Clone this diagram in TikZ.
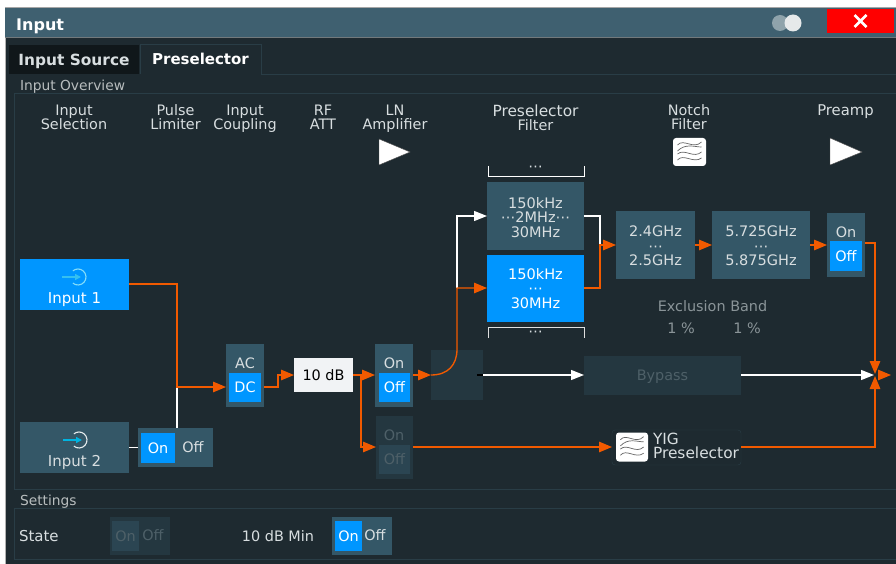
\documentclass[tikz,border=0pt]{standalone}
\usepackage{fontspec}
\setmainfont{DejaVu Sans}
\usetikzlibrary{calc,arrows.meta}
\definecolor{bodyc}{HTML}{1E2A30}
\definecolor{titlec}{HTML}{3F6070}
\definecolor{panelc}{HTML}{345767}
\definecolor{dimc}{HTML}{243740}
\definecolor{dimtxt}{HTML}{4E6068}
\definecolor{bluec}{HTML}{0096FF}
\definecolor{orangec}{HTML}{F25A00}
\definecolor{linec}{HTML}{293D46}
\definecolor{lblc}{HTML}{D8DEE0}
\definecolor{grayt}{HTML}{8A9498}
\definecolor{attc}{HTML}{F1F3F5}
\newcommand{\myfs}[1]{\fontsize{#1}{#1}\selectfont}
\newcommand{\mylb}{\fontsize{14.4}{14}\selectfont}
\newcommand{\myfl}{\fontsize{14.5}{14.5}\selectfont}
\newcommand{\mypr}[1]{{\fontsize{15.4}{14}\selectfont #1}}
\newcommand{\lta}{\rule{0pt}{11pt}}
\newcommand{\ltb}{\rule[-4pt]{0pt}{4pt}}
\tikzset{
  x=1pt,y=-1pt,
  boxn/.style={inner sep=0pt,outer sep=0pt,align=center,text=lblc,font=\mylb},
  panel/.style={boxn,fill=panelc},
  dimbox/.style={boxn,fill=dimc,text=dimtxt},
  active/.style={boxn,fill=bluec,text=white},
  lbl/.style={inner sep=0pt,outer sep=0pt,align=center,text=lblc,font=\mylb},
  filterbox/.style={font=\myfl},
  oline/.style={draw=orangec,line width=1.35pt},
  wline/.style={draw=white,line width=1.35pt},
  oarr/.style={oline,-{Triangle[length=13pt,width=10.5pt,fill=orangec]}},
  warr/.style={wline,-{Triangle[length=13pt,width=10pt,fill=white]}},
  tri/.style={fill=white,draw=black!70,line width=.4pt},
  sect/.style={inner sep=0pt,outer sep=0pt,anchor=west,text depth=0pt,text=lblc!85!black,font=\myfs{13.8}},
}
% box from corners: name, x0,y0,x1,y1, style, text
\newcommand{\bx}[7]{%
  \pgfmathsetmacro{\cxv}{(#2+#4)/2}\pgfmathsetmacro{\cyv}{(#3+#5)/2}%
  \pgfmathsetmacro{\wv}{#4-#2}\pgfmathsetmacro{\hv}{#5-#3}%
  \node[#6,minimum width=\wv pt,minimum height=\hv pt] (#1) at (\cxv,\cyv) {#7};}
% filter icon: name, center, width, height
\newcommand{\filt}[4]{%
  \node[fill=white,rounded corners=3pt,inner sep=0pt,outer sep=0pt,minimum width=#3pt,minimum height=#4pt] (#1) at (#2) {};
  \begin{scope}[shift={(#2)},xscale=#3/33,yscale=#4/28,draw=black!60,line width=.7pt]
    \draw (-12,-7) .. controls (-6,-14) and (4,-2) .. (12,-10);
    \draw (-12,-1) .. controls (-4,-9) and (5,-5) .. (12,-5);
    \draw (-12,2) .. controls (-5,-4) and (4,7) .. (12,0);
    \draw (-12,8) .. controls (-6,1) and (4,12) .. (12,6);
  \end{scope}}
% input icon: centre, circle colour, arrow colour
\newcommand{\inicon}[3]{%
  \draw[line width=1.1pt,draw=#2] ($(#1)+(0,0)$) ++(130:8) arc[start angle=130,end angle=-130,radius=8];
  \draw[line width=1.4pt,draw=#3,-{Triangle[length=6pt,width=6pt,fill=#3]}] ($(#1)+(-16,0)$) -- ($(#1)+(3,0)$);}
\begin{document}
\begin{tikzpicture}
\useasboundingbox (0,0) rectangle (896,564);
\fill[white] (0,0) rectangle (896,564);
\fill[bodyc] (5,7) rectangle (896,564);
\draw[gray!60,line width=1pt] (5,7) -- (5,564);
\fill[titlec] (5,8) rectangle (896,37);
\draw[gray!70,line width=1pt] (5,7.5) -- (896,7.5);
\draw[gray!80!titlec,line width=1pt] (5,37.5) -- (896,37.5);
\node[inner sep=0pt,text=white,anchor=west,text depth=0pt,font=\myfs{16}\bfseries] (title) at (16,25) {Input};
% toggle + close
\definecolor{togc}{HTML}{8FA3AB}
\definecolor{togd}{HTML}{E6E9EA}
\fill[togc] (780,23) circle (8pt);
\fill[togd] (793,23) circle (8.5pt);
\bx{close}{827}{9}{894}{33}{boxn,fill=red}{}
\draw[white,line width=2.6pt] ($(close.center)+(-6,-6)$) -- ($(close.center)+(6,6)$) ($(close.center)+(6,-6)$) -- ($(close.center)+(-6,6)$);
% tabs
\draw[linec,line width=1pt] (140,74.5) -- (140,44.5) -- (261,44.5) -- (261,74.5) -- (896,74.5);
\bx{tabsrc}{9}{45}{139}{74}{boxn,fill=black!45!bodyc,text=lblc,text depth=0pt,font=\myfs{15.4}\bfseries}{Input Source}
\node[inner sep=0pt,text=white,text depth=0pt,font=\myfs{15}\bfseries] (tabpre) at (200.5,59) {Preselector};
% groups
\node[sect] (gi) at (20,85.5) {Input Overview};
\draw[linec,line width=1pt] (896,93.5) -- (14.5,93.5) -- (14.5,489.5) -- (896,489.5);
\node[sect] (gs) at (20,500.5) {Settings};
\draw[linec,line width=1pt] (896,508.5) -- (14.5,508.5) -- (14.5,559.5) -- (896,559.5);
% headers
\node[lbl] (h1) at (74,119.5) {\lta Input\\\ltb Selection};
\node[lbl] (h2) at (175.5,119.5) {\lta Pulse\\\ltb Limiter};
\node[lbl] (h3) at (245,119.5) {\lta Input\\\ltb Coupling};
\node[lbl] (h4) at (323,119.5) {\lta RF\\\ltb ATT};
\node[lbl] (h5) at (395,119.5) {\lta LN\\\ltb Amplifier};
\node[lbl] (h6) at (535.5,119.5) {\lta\mypr{Preselector}\\\ltb Filter};
\node[lbl] (h7) at (689,119.5) {\lta Notch\\\ltb Filter};
\node[lbl] (h8) at (845.5,112) {\strut\fontsize{14.8}{14}\selectfont Preamp};
\draw[tri] (379,139) -- (410,152) -- (379,165) -- cycle;
\draw[tri] (830,138) -- (862,152) -- (830,165) -- cycle;
\filt{notchi}{689.5,152}{33}{28}
% inputs
\definecolor{icona}{HTML}{86DDF8}
\definecolor{iconb}{HTML}{35C0F0}
\definecolor{iconc}{HTML}{E4ECEE}
\definecolor{icond}{HTML}{00B4E0}
\bx{in1}{20}{259}{129}{310}{active}{\rule{0pt}{28pt}\\\fontsize{15}{14}\selectfont Input 1}
\inicon{$(in1.center)+(3.5,-7.5)$}{icona}{iconb}
\bx{in2}{20}{422}{129}{473}{panel}{\rule{0pt}{28pt}\\\fontsize{15}{14}\selectfont Input 2}
\inicon{$(in2.center)+(4.5,-7.5)$}{iconc}{icond}
\bx{pl}{138}{428}{213}{467}{panel}{}
\bx{plon}{141}{433}{175}{463}{active}{On}
\node[lbl] (ploff) at (193,447) {Off};
\bx{cpl}{226}{344}{264}{407}{panel}{}
\node[lbl] (ac) at (245,363) {AC};
\bx{dc}{229}{373}{261}{402}{active}{DC}
\bx{att}{294}{358}{353}{392}{boxn,fill=attc,text=black}{10 dB}
\bx{ln}{375}{344}{413}{407}{panel}{}
\node[lbl] (lnon) at (394,363) {On};
\bx{lnoff}{379}{373}{410}{402}{active}{Off}
\bx{dis}{376}{416}{413}{479}{dimbox}{}
\node[lbl,text=dimtxt] (dison) at (394,435) {On};
\bx{disoff}{379}{445}{410}{474}{dimbox,fill=panelc!45!dimc}{Off}
\bx{sw}{431}{350}{483}{400}{dimbox}{}
\coordinate (swin) at (431,375);
\bx{byp}{584}{356}{741}{395}{dimbox,text depth=0pt}{Bypass}
\bx{yig}{612}{430}{741}{465}{boxn,fill=bodyc,draw=linec,rounded corners=3pt}{}
\filt{yigi}{632,447}{32}{29}
\node[lbl,anchor=west,align=left,text=lblc] (yigt) at (653,448) {\lta\mypr{YIG}\\\ltb\mypr{Preselector}};
% filters
\bx{fa}{487}{182}{584}{250}{panel,filterbox}{\rule{0pt}{14pt}150kHz\\⋯2MHz⋯\\30MHz}
\bx{fb}{487}{255}{584}{322}{active,filterbox}{150kHz\\⋯\\30MHz}
\draw[white,line width=1pt] (488,166) -- (488,177) -- (584,177) -- (584,166);
\node[lbl] (dots1) at (535.5,168.5) {⋯};
\draw[white!75!gray,line width=1pt] (488,338) -- (488,327) -- (584,327) -- (584,338);
\node[lbl] (dots2) at (535.5,334) {⋯};
\bx{n1}{616}{211}{695}{279}{panel,filterbox}{\rule{0pt}{13pt}2.4GHz\\⋯\\2.5GHz}
\bx{n2}{712}{211}{810}{279}{panel,filterbox}{\rule{0pt}{13pt}5.725GHz\\⋯\\5.875GHz}
\bx{pa}{827}{213}{865}{277}{panel}{}
\node[lbl] (paon) at (846,232) {On};
\bx{paoff}{830}{241}{862}{271}{active}{Off}
\node[lbl,text=grayt] (exc) at (712.5,306) {Exclusion Band};
\node[lbl,text=grayt] (ex1) at (681,328) {1 \%};
\node[lbl,text=grayt] (ex2) at (747,328) {1 \%};
% settings
\node[lbl,anchor=west,font=\myfs{15}] (st) at (19,536) {State};
\bx{s1}{110}{517}{170}{555}{dimbox}{}
\bx{s1on}{112}{521}{139}{551}{dimbox,fill=panelc!45!dimc}{On}
\node[lbl,text=dimtxt] (s1off) at (153,535) {Off};
\node[lbl] (st2) at (278,536) {10 dB Min};
\bx{s2}{332}{517}{392}{555}{panel}{}
\bx{s2on}{335}{521}{362}{551}{active}{On}
\node[lbl] (s2off) at (375,535) {Off};
% connectors
\coordinate (j1) at (177,387);
\coordinate (j2) at (361,375);
\coordinate (j3) at (457,288);
\coordinate (j4) at (600,245);
\coordinate (mrg) at (875,375);
% white first
\draw[wline] (in2.east |- pl.west) -- (pl.west);
\draw[wline] (j1) -- (j1 |- pl.north);
\draw[warr] (j3) -- (457,216) -- (fa.west |- 0,216);
\draw[wline] (fa.east |- 0,216) -- (600,216) -- (j4);
\draw[warr] (sw.east |- 0,375) -- (byp.west |- 0,375);
\draw[black,line width=1.6pt] (477,375) -- (483,375);
\draw[warr] (byp.east |- 0,375) -- ($(mrg)+(-1,0)$);
% orange
\draw[oarr] (in1.east |- 0,284) -| (j1) -- (cpl.west |- j1);
\draw[oarr] (cpl.east |- 0,387) -- (278,387) -- (278,375) -- (att.west |- 0,375);
\draw[oarr] (att.east |- 0,375) -- (ln.west |- 0,375);
\draw[oarr] (j2) -- (361,447) -- (dis.west |- 0,447);
\draw[oarr] (ln.east |- 0,375) -- (sw.west |- 0,375);
\draw[oarr] (swin) .. controls (448,375) and (457,365) .. (457,349) -- (j3) -- (fb.west |- j3);
\draw[oarr] (fb.east |- 0,288) -- (600,288) -- (j4) -- (n1.west |- j4);
\draw[oarr] (n1.east |- j4) -- (n2.west |- j4);
\draw[oarr] (n2.east |- j4) -- (pa.west |- j4);
\draw[oarr] (pa.east |- 0,243) -- (875,243) -- ($(mrg)+(0,-1)$);
\draw[oarr] (dis.east |- 0,447) -- (yig.west |- 0,447);
\draw[oarr] (yig.east |- 0,447) -- (875,447) -- ($(mrg)+(0,1)$);
\draw[oarr] ($(mrg)+(3,0)$) -- ($(mrg)+(16,0)$);
\end{tikzpicture}
\end{document}
